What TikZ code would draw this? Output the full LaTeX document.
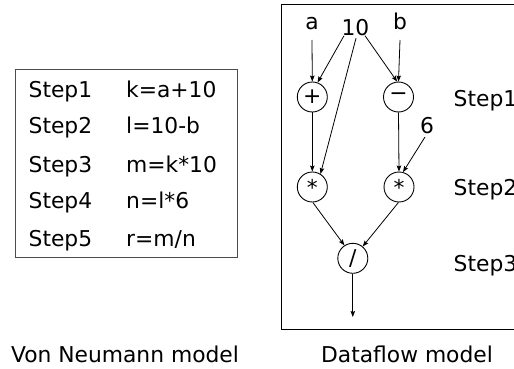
\documentclass[tikz,border=0pt]{standalone}
\usepackage{fontspec}
\setmainfont{DejaVu Sans}
\usetikzlibrary{arrows.meta}
\begin{document}
\begin{tikzpicture}[x=1pt,y=-1pt,
  txt/.style={inner sep=0pt,font=\fontsize{21.8}{26}\selectfont},
  op/.style={circle,draw,line width=0.9pt,minimum size=30pt,inner sep=0pt,font=\fontsize{21.8}{26}\selectfont},
  arr/.style={-{Stealth[length=6pt,width=4.5pt,inset=1pt]},line width=0.8pt},
  frame/.style={line width=1pt}]
\useasboundingbox (0,0) rectangle (514,369);
\clip (0,0) rectangle (514,369);
% Von Neumann box
\draw[frame,black!70] (15,69.5) rectangle (237,257.5);
\node[txt,anchor=base west] (s1) at (28.5,97.5) {Step1};
\node[txt,anchor=base west] (s2) at (28.5,133.5) {Step2};
\node[txt,anchor=base west] (s3) at (28.5,172) {Step3};
\node[txt,anchor=base west] (s4) at (28.5,208) {Step4};
\node[txt,anchor=base west] (s5) at (28.5,246) {Step5};
\node[txt,anchor=base west] (e1) at (126,97.5) {k=a+10};
\node[txt,anchor=base west] (e2) at (126,133.5) {l=10-b};
\node[txt,anchor=base west] (e3) at (126,172) {m=k*10};
\node[txt,anchor=base west] (e4) at (126,208) {n=l*6};
\node[txt,anchor=base west] (e5) at (126,246) {r=m/n};
\node[txt,anchor=base] (cap1) at (125,362) {Von Neumann model};
% Dataflow frame
\draw[frame] (281.5,5) rectangle (540,329);
\node[txt,anchor=base] (cap2) at (407,362) {Dataflow model};
\node[txt,anchor=base] (a) at (312,30) {a};
\node[txt,anchor=base] (ten) at (355.5,35.7) {10};
\node[txt,anchor=base] (b) at (400,30) {b};
\node[txt,anchor=base] (six) at (427,133) {6};
\node[op] (plus) at (312.3,97) {+};
\node[op] (minus) at (398.5,97) {−};
\node[op] (m1) at (312.3,187) {\raisebox{-0.25ex}{*}};
\node[op] (m2) at (399,187) {\raisebox{-0.25ex}{*}};
\node[op] (div) at (352.8,258.3) {/};
\coordinate (out) at (352.8,317);
\node[txt,anchor=base west] (r1) at (453.5,106.7) {Step1};
\node[txt,anchor=base west] (r2) at (453.5,195) {Step2};
\node[txt,anchor=base west] (r3) at (453.5,271.7) {Step3};
% connectors
\draw[arr] ([yshift=-10pt]a.base) -- (plus.north);
\draw[arr] ([yshift=-10pt]b.base) -- (minus.north);
\draw[arr] ([xshift=-11.5pt]ten.base) -- (plus.70);
\draw[arr] ([xshift=0.5pt,yshift=-2.5pt]ten.base) -- (m1.58);
\draw[arr] ([xshift=9.5pt]ten.base) -- (minus.95);
\draw[arr] (plus.south) -- (m1.north);
\draw[arr] (minus.south) -- (m2.north);
\draw[arr] ([xshift=-2pt,yshift=-4pt]six.base) -- (m2.75);
\draw[arr] (m1.-88) -- (div.123);
\draw[arr] (m2.-92) -- (div.50);
\draw[arr] (div.south) -- (out);
\end{tikzpicture}
\end{document}
